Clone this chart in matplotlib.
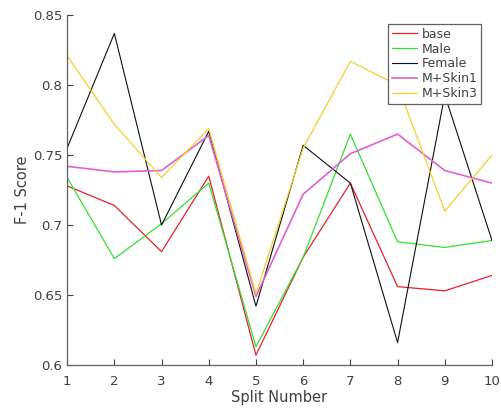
''' F-1 score per split for the different training sets. '''
import numpy as np
import matplotlib.pyplot as plt

splits = np.arange(1, 11)
base = [0.728, 0.714, 0.681, 0.735, 0.607, 0.677, 0.730, 0.656, 0.653, 0.664]
male = [0.734, 0.676, 0.701, 0.730, 0.613, 0.677, 0.765, 0.688, 0.684, 0.689]
female = [0.755, 0.837, 0.700, 0.767, 0.642, 0.757, 0.730, 0.616, 0.793, 0.689]
mskin1 = [0.742, 0.738, 0.739, 0.764, 0.649, 0.722, 0.751, 0.765, 0.739, 0.730]
mskin3 = [0.821, 0.772, 0.734, 0.769, 0.651, 0.755, 0.817, 0.800, 0.710, 0.750]

grey = '#404040'
plt.rcParams['font.family'] = 'DejaVu Sans'

fig = plt.figure(figsize=(5.01, 4.11), dpi=100)
ax = fig.add_axes([0.134, 0.112, 0.848, 0.851])

ax.plot(splits, base, color='#e8202a', lw=0.9, label='base')
ax.plot(splits, male, color='#33e033', lw=0.9, label='Male')
ax.plot(splits, female, color='#101010', lw=0.8, label='Female')
ax.plot(splits, mskin1, color='#e060d0', lw=1.2, label='M+Skin1')
ax.plot(splits, mskin3, color='#f2d030', lw=0.9, label='M+Skin3')

ax.set_xlim(1, 10)
ax.set_ylim(0.6, 0.85)
ax.set_xticks(splits)
ax.set_yticks([0.6, 0.65, 0.7, 0.75, 0.8, 0.85])
ax.set_yticklabels(['0.6', '0.65', '0.7', '0.75', '0.8', '0.85'])
ax.tick_params(direction='in', length=4, width=0.8, colors=grey, labelsize=9.5)
ax.tick_params(axis='x', pad=7)
for s in ['top', 'right']:
    ax.spines[s].set_visible(False)
for s in ['left', 'bottom']:
    ax.spines[s].set_color('#606060')
    ax.spines[s].set_linewidth(0.9)

ax.set_xlabel('Split Number', color=grey, fontsize=10.5, labelpad=2)
ax.set_ylabel('F-1 Score', color=grey, fontsize=10.5, labelpad=2)

leg = ax.legend(loc='upper right', bbox_to_anchor=(0.975, 0.975), fontsize=9,
                fancybox=False, framealpha=1, edgecolor='#606060',
                handlelength=2.0, handletextpad=0.4, borderpad=0.3,
                labelspacing=0.15, borderaxespad=0)
leg.get_frame().set_linewidth(0.9)
for t in leg.get_texts():
    t.set_color(grey)

plt.savefig('out.png', dpi=100)
